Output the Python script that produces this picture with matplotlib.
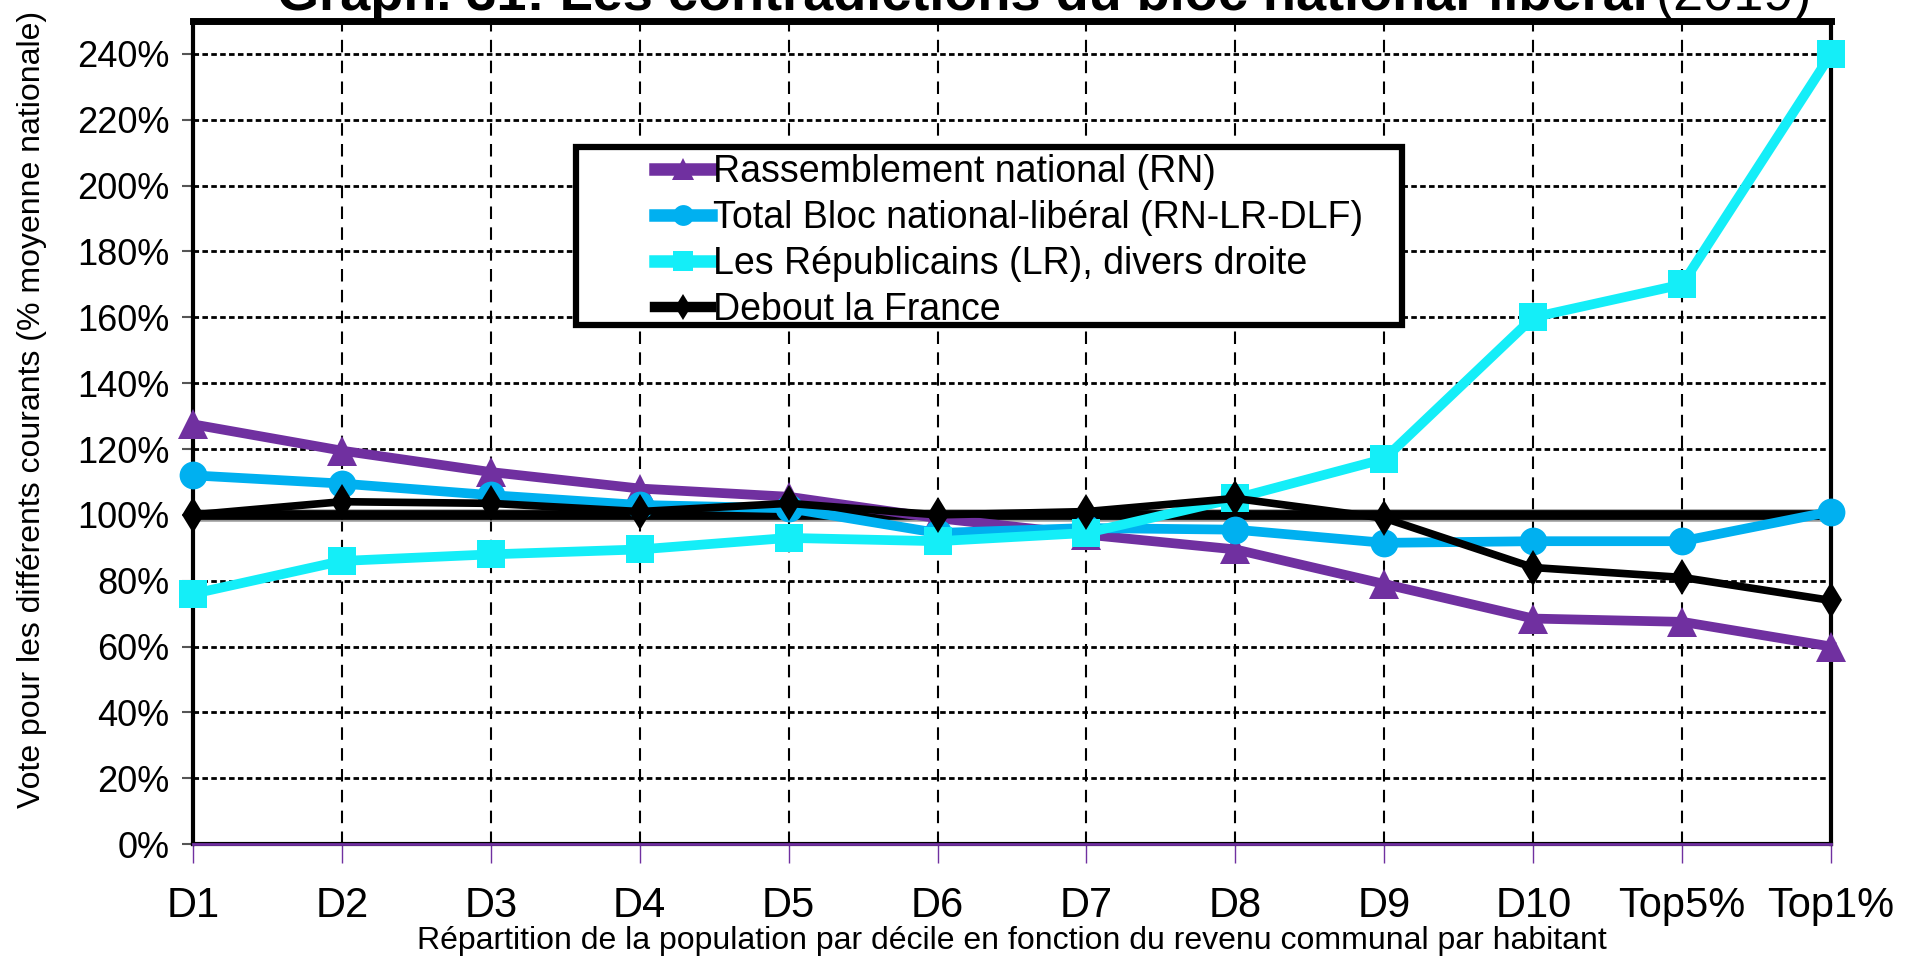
import matplotlib
matplotlib.use("Agg")
import matplotlib.pyplot as plt
from matplotlib.patches import Rectangle
from matplotlib.ticker import FuncFormatter
from matplotlib.lines import Line2D

plt.rcParams['font.family'] = ['Liberation Sans', 'DejaVu Sans']

categories = ["D1", "D2", "D3", "D4", "D5", "D6", "D7", "D8", "D9", "D10", "Top5%", "Top1%"]
rn = [127.5, 119.5, 113, 108, 105.5, 99, 94, 89.5, 79, 68.5, 67.5, 60]
bloc = [112, 109.5, 106, 103, 102, 94.5, 96, 95.5, 91.5, 92, 92, 101]
lr = [76, 86, 88, 89.5, 93, 92, 94.5, 105, 117, 160, 170, 240]
dlf = [100, 104, 103.5, 101, 103.5, 100, 101, 105, 99, 84, 81, 74]
ref_line = [100] * len(categories)

series = [
    ("Rassemblement national (RN)", rn, "#7030A0", "^", 22, 7),
    ("Total Bloc national-libéral (RN-LR-DLF)", bloc, "#00B0F0", "o", 20, 7),
    ("Les Républicains (LR), divers droite", lr, "#14EEF8", "s", 20, 7),
    ("Debout la France", dlf, "#000000", "d", 18, 5.5),
]

fig = plt.figure(figsize=(19.16, 9.57), dpi=100)
ax = fig.add_axes([0.1007, 0.118, 0.855, 0.86])
x = list(range(len(categories)))

# reference line at 100%
ax.plot(x, ref_line, color="#999999", lw=9, zorder=2, solid_capstyle="butt")
ax.plot(x, ref_line, color="black", lw=7, zorder=2.1, solid_capstyle="butt")

for i, (name, vals, col, mk, ms, lw) in enumerate(series):
    ax.plot(x, vals, color=col, lw=lw, marker=mk, markersize=ms,
            markeredgewidth=0, zorder=3 + i, clip_on=False)

ax.plot(x, [0] * len(x), color="#7030A0", lw=2, zorder=10, clip_on=False)

ax.set_xlim(0, len(categories) - 1)
ax.set_ylim(0, 250)
ax.set_yticks(range(0, 241, 20))
ax.yaxis.set_major_formatter(FuncFormatter(lambda v, p: f"{int(v)}%"))
ax.set_xticks(x)
ax.set_xticklabels(categories)

ax.yaxis.grid(True, color="black", lw=2, linestyle=(0, (2, 1.2)), zorder=1)
ax.xaxis.grid(True, color="black", lw=1.5, linestyle=(0, (6, 4)), zorder=1)

ax.tick_params(axis="x", direction="out", length=14, width=1, color="#7030A0",
               labelsize=30, pad=16)
ax.tick_params(axis="y", direction="out", length=8, width=1.5, color="#555555",
               labelsize=26, pad=9)

for side in ["left", "right", "bottom"]:
    ax.spines[side].set_linewidth(3)
    ax.spines[side].set_color("black")
ax.spines["top"].set_linewidth(5)

ax.set_ylabel("Vote pour les différents courants (% moyenne nationale)", fontsize=23)
ax.yaxis.set_label_coords(-0.089, 0.528)
ax.set_xlabel("Répartition de la population par décile en fonction du revenu communal par habitant",
              fontsize=23, labelpad=0)

# legend with its own box
handles = [Line2D([], [], color=col, lw=lw + 2, marker=mk, markersize=ms * 0.75, markeredgewidth=0)
           for (name, vals, col, mk, ms, lw) in series]
labels = [s[0] for s in series]
leg = ax.legend(handles, labels, loc="upper left", bbox_to_anchor=(0.282, 0.838),
                frameon=False, fontsize=27, handlelength=1.5, handletextpad=0.05,
                labelspacing=0.26, borderpad=0, borderaxespad=0)
leg.set_zorder(20)
box = Rectangle((0.234, 0.631), 0.504, 0.216, transform=ax.transAxes, facecolor="white",
                edgecolor="black", lw=4.5, zorder=19)
ax.add_patch(box)

fig.text(1648 / 1916, 1 - 10 / 957, "Graph. 31: Les contradictions du bloc national-libéral",
         fontsize=39, fontweight="bold", ha="right", va="baseline")
fig.text(1656 / 1916, 1 - 10 / 957, "(2019)", fontsize=39, ha="left", va="baseline")

fig.savefig("out.png", dpi=100, facecolor="white")
